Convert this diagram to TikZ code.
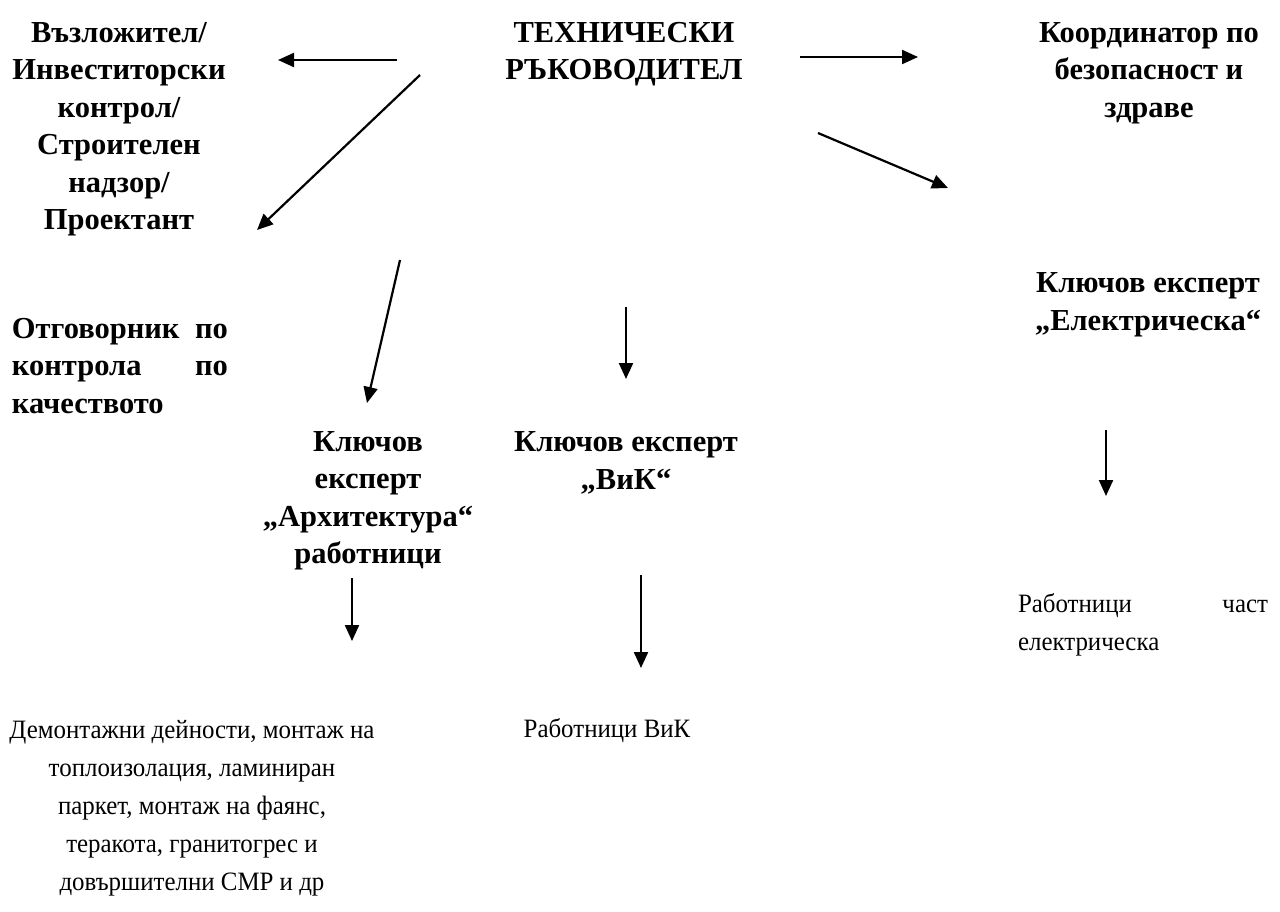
\documentclass[tikz,border=0pt]{standalone}
\usepackage{fontspec}
\setmainfont{Liberation Serif}
\newfontfamily\narrowserif[FakeStretch=0.94]{Liberation Serif}
\usetikzlibrary{arrows.meta}
\begin{document}
\begin{tikzpicture}[x=1pt,y=-1pt,
 lbl/.style={inner sep=0pt, font=\fontsize{30.5}{37.5}\selectfont\bfseries, align=center},
 reg/.style={inner sep=0pt, font=\narrowserif\fontsize{26.5}{38}\selectfont, align=center},
 arr/.style={line width=2.2pt, -{Triangle[length=16pt,width=14pt]}}]
\useasboundingbox (0,0) rectangle (1280,911);
\fill[white] (0,0) rectangle (1280,911);
% nodes
\node[lbl] (tr) at (624,54) {ТЕХНИЧЕСКИ\\РЪКОВОДИТЕЛ};
\node[lbl] (vz) at (119,129) {Възложител/\\Инвеститорски\\контрол/\\Строителен\\надзор/\\Проектант};
\node[lbl] (ko) at (1149,73) {Координатор по\\безопасност и\\здраве};
\node[lbl, align=left] (ot) at (120,366) {\hbox to 216pt{Отговорник\hfill по}\\\hbox to 216pt{контрола\hfill по}\\качеството};
\node[lbl] (ar) at (368,501) {Ключов\\експерт\\„Архитектура“\\работници};
\node[lbl] (vk) at (626,463) {Ключов експерт\\„ВиК“};
\node[lbl] (el) at (1148,305) {Ключов експерт\\„Електрическа“};
\node[reg, align=left] (re) at (1143,625) {\hbox to 250pt{Работници\hfill част}\\електрическа};
\node[reg] (rv) at (607,731) {Работници ВиК};
\node[reg] (dm) at (192,808) {Демонтажни дейности, монтаж на\\топлоизолация, ламиниран\\паркет, монтаж на фаянс,\\теракота, гранитогрес и\\довършителни СМР и др};
% arrow end points
\coordinate (a1s) at (397,60);  \coordinate (a1e) at (278,60);
\coordinate (a2s) at (420,75);  \coordinate (a2e) at (257,230);
\coordinate (a3s) at (800,57);  \coordinate (a3e) at (918,57);
\coordinate (a4s) at (818,133); \coordinate (a4e) at (948,188);
\coordinate (a5s) at (400,260); \coordinate (a5e) at (367,403);
\coordinate (a6s) at (626,307); \coordinate (a6e) at (626,379);
\coordinate (a7s) at (1106,430); \coordinate (a7e) at (1106,496);
\coordinate (a8s) at (352,578); \coordinate (a8e) at (352,641);
\coordinate (a9s) at (641,575); \coordinate (a9e) at (641,668);
\draw[arr] (a1s) -- (a1e);
\draw[arr] (a2s) -- (a2e);
\draw[arr] (a3s) -- (a3e);
\draw[arr] (a4s) -- (a4e);
\draw[arr] (a5s) -- (a5e);
\draw[arr] (a6s) -- (a6e);
\draw[arr] (a7s) -- (a7e);
\draw[arr] (a8s) -- (a8e);
\draw[arr] (a9s) -- (a9e);
\end{tikzpicture}
\end{document}
